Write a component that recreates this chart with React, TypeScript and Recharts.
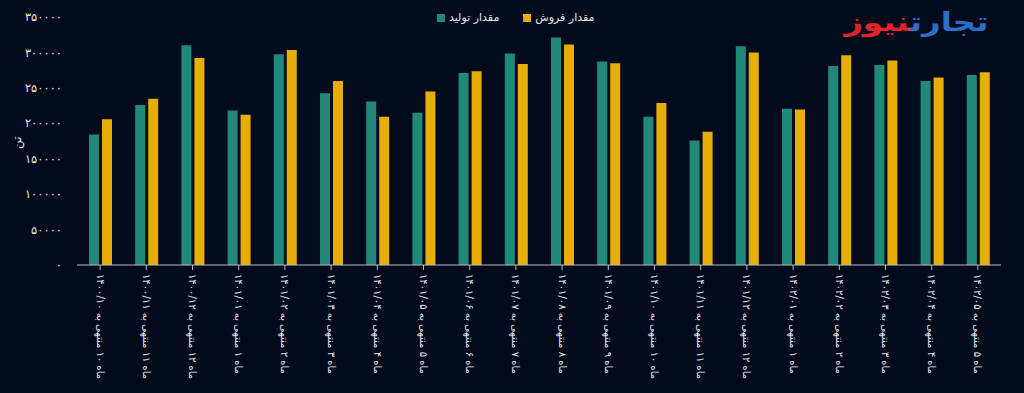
import React from 'react';
import { BarChart, Bar, XAxis, YAxis } from 'recharts';

const categories = [
  'ماه ۱۰ منتهی به ۱۴۰۰/۱۰',
  'ماه ۱۱ منتهی به ۱۴۰۰/۱۱',
  'ماه ۱۲ منتهی به ۱۴۰۰/۱۲',
  'ماه ۱ منتهی به ۱۴۰۱/۰۱',
  'ماه ۲ منتهی به ۱۴۰۱/۰۲',
  'ماه ۳ منتهی به ۱۴۰۱/۰۳',
  'ماه ۴ منتهی به ۱۴۰۱/۰۴',
  'ماه ۵ منتهی به ۱۴۰۱/۰۵',
  'ماه ۶ منتهی به ۱۴۰۱/۰۶',
  'ماه ۷ منتهی به ۱۴۰۱/۰۷',
  'ماه ۸ منتهی به ۱۴۰۱/۰۸',
  'ماه ۹ منتهی به ۱۴۰۱/۰۹',
  'ماه ۱۰ منتهی به ۱۴۰۱/۱۰',
  'ماه ۱۱ منتهی به ۱۴۰۱/۱۱',
  'ماه ۱۲ منتهی به ۱۴۰۱/۱۲',
  'ماه ۱ منتهی به ۱۴۰۲/۰۱',
  'ماه ۲ منتهی به ۱۴۰۲/۰۲',
  'ماه ۳ منتهی به ۱۴۰۲/۰۳',
  'ماه ۴ منتهی به ۱۴۰۲/۰۴',
  'ماه ۵ منتهی به ۱۴۰۲/۰۵',
];

// مقدار تولید
const production = [
  184000, 225700, 310300, 218200, 297500, 242300, 230900, 214900, 271000, 298500,
  321100, 287100, 209200, 175700, 308800, 220500, 281000, 282400, 259700, 268200,
];

// مقدار فروش
const sales = [
  205800, 234700, 292300, 212000, 303600, 259700, 209200, 244700, 273400, 283800,
  311200, 284800, 228600, 188000, 299900, 219600, 296100, 288600, 264500, 272000,
];

const yTicks = [0, 50000, 100000, 150000, 200000, 250000, 300000, 350000];

const seriesNames = ['مقدار تولید', 'مقدار فروش'];

const data = categories.map((name, i) => ({
  name,
  production: production[i],
  sales: sales[i],
}));

const BG = '#020b1b';
const GREEN = '#21897a';
const YELLOW = '#e6ae07';
const TEXT = '#e6e8ee';
const FONT = '"DejaVu Sans", "Noto Sans", sans-serif';

const toFa = (v: number | string) =>
  String(v).replace(/[0-9]/g, (d) => '۰۱۲۳۴۵۶۷۸۹'[Number(d)]);

const XTick = (props: any) => {
  const { x, y, payload } = props;
  return (
    <g transform={`translate(${x},${y})`}>
      <text
        transform="rotate(90)"
        x={1}
        y={3.5}
        textAnchor="start"
        fill={TEXT}
        fontSize={10}
        fontFamily={FONT}
      >
        {payload.value}
      </text>
    </g>
  );
};

export default function App() {
  const legendColors = [GREEN, YELLOW];
  return (
    <div
      style={{
        position: 'absolute',
        top: 0,
        left: 0,
        width: 1024,
        height: 393,
        background: BG,
        fontFamily: FONT,
      }}
    >
      <BarChart
        width={1024}
        height={393}
        data={data}
        margin={{ top: 17, right: 23, left: 17, bottom: 8 }}
        barSize={10}
        barGap={3}
      >
        <XAxis
          dataKey="name"
          interval={0}
          height={120}
          tick={<XTick />}
          tickSize={5}
          tickMargin={3}
          stroke="#b9bcc4"
          tickLine={{ stroke: '#b9bcc4' }}
        />
        <YAxis
          width={60}
          domain={[0, 350000]}
          ticks={yTicks}
          axisLine={false}
          tickLine={false}
          tickMargin={9}
          tickFormatter={(v) => toFa(v)}
          tick={{ fill: TEXT, fontSize: 11.5, fontFamily: FONT }}
          label={{
            value: 'تن',
            angle: -90,
            position: 'insideLeft',
            offset: 0,
            dy: 8,
            fill: TEXT,
            fontSize: 12,
            fontFamily: FONT,
          }}
        />
        <Bar dataKey="production" name={seriesNames[0]} fill={GREEN} isAnimationActive={false} />
        <Bar dataKey="sales" name={seriesNames[1]} fill={YELLOW} isAnimationActive={false} />
      </BarChart>
      <div
        style={{
          position: 'absolute',
          top: 11,
          left: 437,
          display: 'flex',
          alignItems: 'center',
          fontSize: 11,
          color: TEXT,
          whiteSpace: 'nowrap',
        }}
      >
        {seriesNames.map((n, i) => (
          <div key={n} style={{ display: 'flex', alignItems: 'center', marginRight: i === 0 ? 24 : 0 }}>
            <span style={{ width: 8, height: 8, background: legendColors[i], display: 'inline-block', marginRight: 4 }} />
            <span>{n}</span>
          </div>
        ))}
      </div>
      <div
        style={{
          position: 'absolute',
          top: 7,
          right: 36,
          direction: 'rtl',
          fontWeight: 'bold',
          fontSize: 26,
          fontFamily: FONT,
          transform: 'scaleX(1.25)',
          transformOrigin: 'right center',
          whiteSpace: 'nowrap',
        }}
      >
        <span style={{ color: '#2b6fc8' }}>تجارت</span>
        <span style={{ color: '#e2232a' }}>نیوز</span>
      </div>
    </div>
  );
}
